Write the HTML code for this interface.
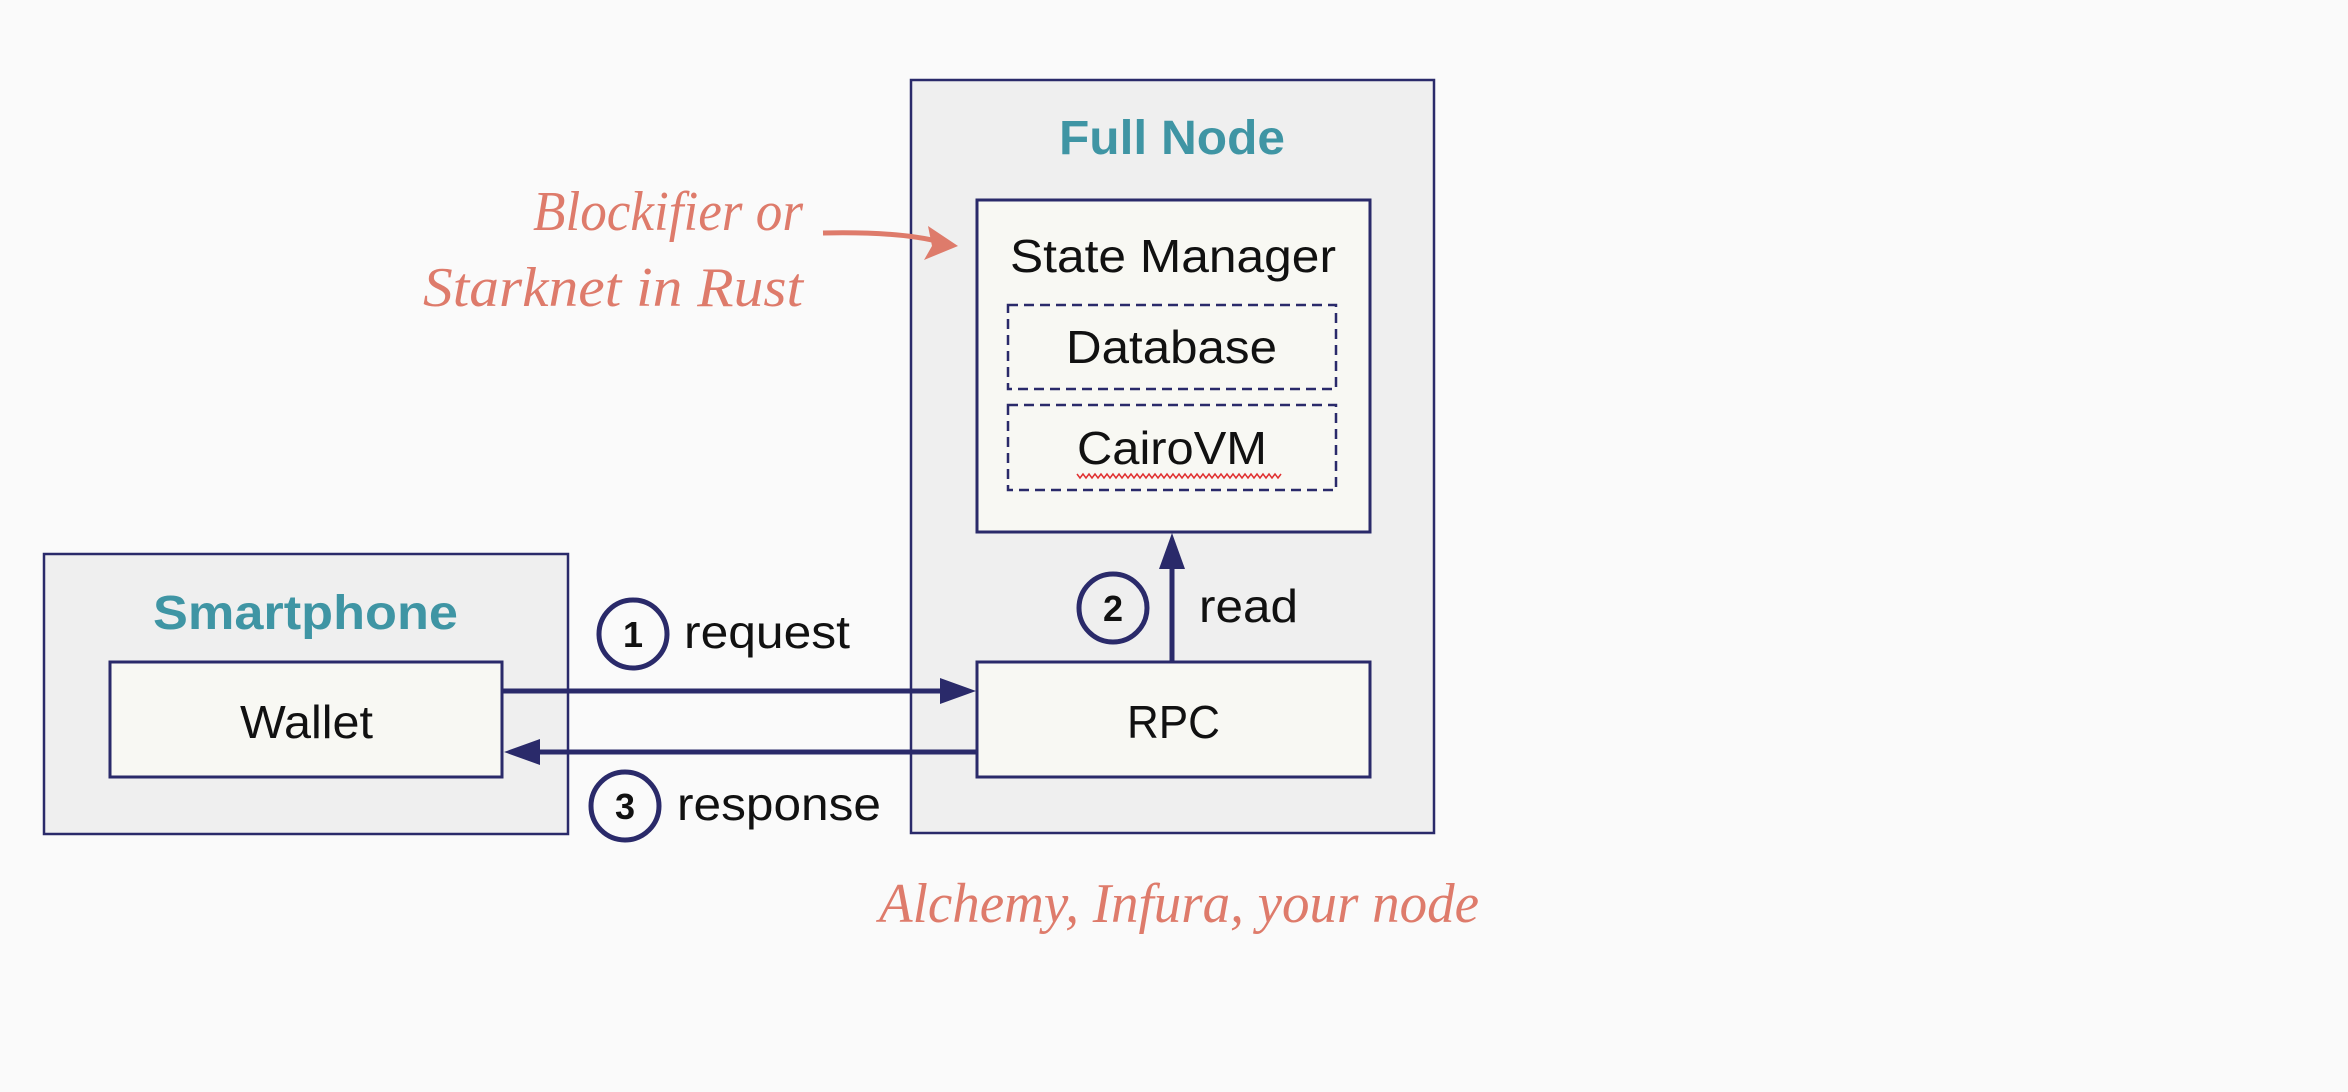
<!DOCTYPE html>
<html><head><meta charset="utf-8"><style>
html,body{margin:0;padding:0;background:#fafafa;}
svg{display:block}
</style></head><body>
<svg width="2348" height="1092" viewBox="0 0 2348 1092" xmlns="http://www.w3.org/2000/svg" font-family="Liberation Sans, sans-serif">
<rect width="2348" height="1092" fill="#fafafa"/>
<!-- Full Node -->
<rect x="911" y="80" width="523" height="753" fill="#efefef" stroke="#2a2a6a" stroke-width="2.5"/>
<text x="1059" y="154" textLength="226" lengthAdjust="spacingAndGlyphs" font-size="48" font-weight="bold" fill="#3f95a4">Full Node</text>
<rect x="977" y="200" width="393" height="332" fill="#f8f8f3" stroke="#2a2a6a" stroke-width="3"/>
<text x="1010" y="272" textLength="326" lengthAdjust="spacingAndGlyphs" font-size="46" fill="#111">State Manager</text>
<rect x="1008" y="305" width="328" height="84" fill="#f8f8f3" stroke="#2a2a6a" stroke-width="2.5" stroke-dasharray="10,6"/>
<text x="1066" y="363" textLength="211" lengthAdjust="spacingAndGlyphs" font-size="46" fill="#111">Database</text>
<rect x="1008" y="405" width="328" height="85" fill="#f8f8f3" stroke="#2a2a6a" stroke-width="2.5" stroke-dasharray="10,6"/>
<text x="1077" y="464" textLength="190" lengthAdjust="spacingAndGlyphs" font-size="46" fill="#111">CairoVM</text>
<path id="sq" d="M1077 474 l3 4 l3 -4 l3 4 l3 -4 l3 4 l3 -4 l3 4 l3 -4 l3 4 l3 -4 l3 4 l3 -4 l3 4 l3 -4 l3 4 l3 -4 l3 4 l3 -4 l3 4 l3 -4 l3 4 l3 -4 l3 4 l3 -4 l3 4 l3 -4 l3 4 l3 -4 l3 4 l3 -4 l3 4 l3 -4 l3 4 l3 -4 l3 4 l3 -4 l3 4 l3 -4 l3 4 l3 -4 l3 4 l3 -4 l3 4 l3 -4 l3 4 l3 -4 l3 4 l3 -4 l3 4 l3 -4 l3 4 l3 -4 l3 4 l3 -4 l3 4 l3 -4 l3 4 l3 -4 l3 4 l3 -4 l3 4 l3 -4 l3 4 l3 -4 l3 4 l3 -4 l3 4 l3 -4" fill="none" stroke="#e03030" stroke-width="1.5"/>
<rect x="977" y="662" width="393" height="115" fill="#f8f8f3" stroke="#2a2a6a" stroke-width="3"/>
<text x="1127" y="738" textLength="93" lengthAdjust="spacingAndGlyphs" font-size="46" fill="#111">RPC</text>
<!-- Smartphone -->
<rect x="44" y="554" width="524" height="280" fill="#efefef" stroke="#2a2a6a" stroke-width="2.5"/>
<text x="153" y="629" textLength="305" lengthAdjust="spacingAndGlyphs" font-size="48" font-weight="bold" fill="#3f95a4">Smartphone</text>
<rect x="110" y="662" width="392" height="115" fill="#f8f8f3" stroke="#2a2a6a" stroke-width="3"/>
<text x="240" y="738" textLength="133" lengthAdjust="spacingAndGlyphs" font-size="46" fill="#111">Wallet</text>
<!-- arrows -->
<line x1="502" y1="691" x2="945" y2="691" stroke="#2a2a6a" stroke-width="5"/>
<path d="M976 691 l-36 -13 v26z" fill="#2a2a6a"/>
<line x1="977" y1="752" x2="535" y2="752" stroke="#2a2a6a" stroke-width="5"/>
<path d="M504 752 l36 -13 v26z" fill="#2a2a6a"/>
<line x1="1172" y1="662" x2="1172" y2="565" stroke="#2a2a6a" stroke-width="5"/>
<path d="M1172 533 l-13 36 h26z" fill="#2a2a6a"/>
<!-- circles -->
<g fill="none" stroke="#2a2a6a" stroke-width="5">
<circle cx="633" cy="634" r="34"/>
<circle cx="1113" cy="608" r="34"/>
<circle cx="625" cy="806" r="34"/>
</g>
<g font-size="36" font-weight="bold" fill="#111" text-anchor="middle">
<text x="633" y="647">1</text>
<text x="1113" y="621">2</text>
<text x="625" y="819">3</text>
</g>
<g font-size="46" fill="#111">
<text x="684" y="648" textLength="166" lengthAdjust="spacingAndGlyphs">request</text>
<text x="1199" y="622" textLength="99" lengthAdjust="spacingAndGlyphs">read</text>
<text x="677" y="820" textLength="204" lengthAdjust="spacingAndGlyphs">response</text>
</g>
<!-- annotations -->
<g font-family="Liberation Serif, serif" font-style="italic" font-size="56" fill="#de7b6b">
<text x="533" y="230" textLength="270" lengthAdjust="spacingAndGlyphs">Blockifier or</text>
<text x="423" y="306" textLength="380" lengthAdjust="spacingAndGlyphs">Starknet in Rust</text>
<text x="879" y="922" textLength="600" lengthAdjust="spacingAndGlyphs">Alchemy, Infura, your node</text>
</g>
<path d="M823 233 C870 232 910 234 940 242" fill="none" stroke="#de7b6b" stroke-width="5"/>
<path d="M958 246 l-30 -20 l4 20 l-8 14z" fill="#de7b6b"/>
</svg>
</body></html>
